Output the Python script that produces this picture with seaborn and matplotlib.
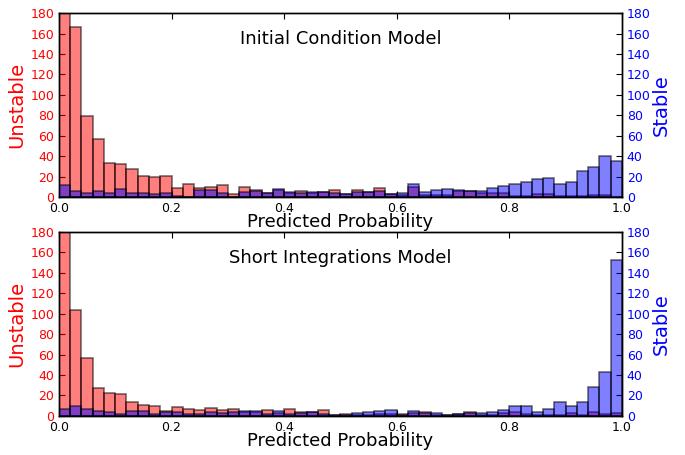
import numpy as np
import pandas as pd
import matplotlib
matplotlib.use("Agg")
import matplotlib.pyplot as plt
import seaborn as sns

# histogram counts, 50 bins of width 0.02 between 0 and 1
n_bins = 50

ic_unstable = [260, 166, 79, 57, 33, 32, 27, 21, 20, 21, 9, 13, 9, 10, 12, 3, 10, 7, 4, 7,
               4, 6, 4, 5, 7, 3, 7, 5, 9, 3, 2, 10, 2, 2, 2, 6, 6, 4, 4, 4,
               1, 1, 3, 3, 1, 1, 1, 2, 2, 0]
ic_stable = [12, 6, 4, 6, 4, 8, 4, 4, 3, 4, 1, 0, 7, 7, 4, 0, 5, 6, 4, 8,
             5, 4, 5, 5, 4, 3, 5, 5, 6, 3, 4, 13, 5, 7, 8, 7, 6, 6, 9, 11,
             13, 15, 18, 19, 13, 15, 25, 29, 40, 35]

si_unstable = [260, 104, 57, 27, 22, 21, 14, 11, 10, 5, 9, 7, 6, 8, 6, 7, 4, 4, 6, 3,
               7, 4, 4, 6, 1, 2, 1, 1, 2, 2, 2, 3, 4, 1, 1, 2, 4, 1, 1, 3,
               4, 2, 1, 1, 1, 3, 1, 4, 2, 3]
si_stable = [7, 10, 7, 5, 4, 2, 5, 5, 2, 4, 4, 2, 2, 4, 3, 4, 5, 5, 2, 5,
             2, 3, 4, 2, 1, 1, 3, 4, 5, 6, 1, 5, 3, 3, 1, 2, 3, 3, 4, 6,
             10, 10, 4, 7, 14, 10, 14, 28, 43, 153]

panels = [("Initial Condition Model", ic_unstable, ic_stable),
          ("Short Integrations Model", si_unstable, si_stable)]

sns.set_style("ticks", {"xtick.direction": "in", "ytick.direction": "in",
                        "axes.edgecolor": "black", "text.color": "black",
                        "axes.labelcolor": "black", "xtick.color": "black",
                        "ytick.color": "black"})
plt.rcParams["font.family"] = ["DejaVu Sans"]

fig = plt.figure(figsize=(6.85, 4.55), dpi=100)
boxes = [[0.086, 0.567, 0.822, 0.404], [0.086, 0.086, 0.822, 0.404]]

centers = (np.arange(n_bins) + 0.5) / n_bins
edge = (0, 0, 0, 0.55)

for box, (title, unstable, stable) in zip(boxes, panels):
    ax = fig.add_axes(box)
    df = pd.DataFrame({"p": centers, "unstable": unstable, "stable": stable})
    sns.histplot(data=df, x="p", weights="unstable", bins=n_bins, binrange=(0, 1),
                 color="red", alpha=0.5, edgecolor=edge, linewidth=1.2, ax=ax)
    ax.set_xlim(0, 1)
    ax.set_ylim(0, 180)
    ax.set_yticks(range(0, 181, 20))
    ax.set_ylabel("Unstable", color="red", fontsize=14)
    ax.set_xlabel("Predicted Probability", fontsize=13, labelpad=-1)
    ax.tick_params(axis="y", colors="black", labelcolor="red", labelsize=9, length=4)
    ax.tick_params(axis="x", labelsize=9, length=4, top=True)
    ax.yaxis.labelpad = 3
    ax.text(0.5, 0.86, title, transform=ax.transAxes, ha="center", va="center",
            fontsize=13, color="black")

    ax2 = ax.twinx()
    sns.histplot(data=df, x="p", weights="stable", bins=n_bins, binrange=(0, 1),
                 color="blue", alpha=0.5, edgecolor=edge, linewidth=1.2, ax=ax2)
    ax2.set_xlim(0, 1)
    ax2.set_ylim(0, 180)
    ax2.set_yticks(range(0, 181, 20))
    ax2.set_ylabel("Stable", color="blue", fontsize=14)
    ax2.yaxis.labelpad = 1
    ax2.tick_params(axis="y", colors="black", labelcolor="blue", labelsize=9, length=4, direction="in")
    for a in (ax, ax2):
        for s in a.spines.values():
            s.set_visible(True)
            s.set_linewidth(1)
            s.set_color("black")

fig.savefig("out.png", dpi=100)
